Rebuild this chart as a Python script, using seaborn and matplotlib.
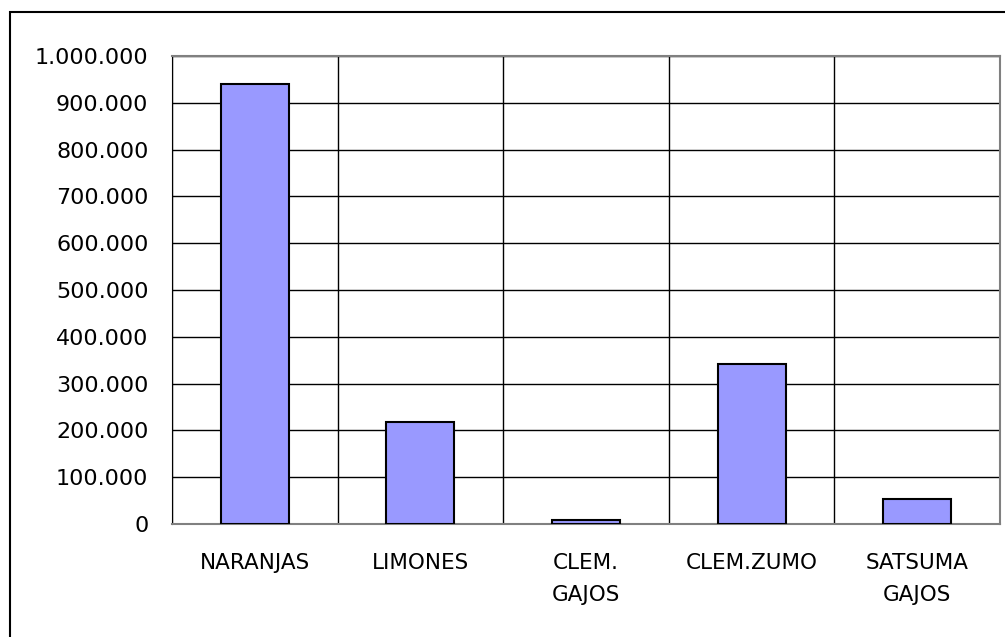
import matplotlib
matplotlib.use('Agg')
from matplotlib import pyplot as plt
from matplotlib.patches import Rectangle
from matplotlib.ticker import FuncFormatter
import seaborn as sns

categories = ['NARANJAS', 'LIMONES', 'CLEM.\nGAJOS', 'CLEM.ZUMO', 'SATSUMA\nGAJOS']
values = [940000, 218000, 8000, 342000, 53000]
y_ticks = list(range(0, 1000001, 100000))

sns.set_style('white')
plt.rcParams['font.family'] = ['DejaVu Sans']
plt.rcParams['text.color'] = 'black'
plt.rcParams['xtick.color'] = 'black'
plt.rcParams['ytick.color'] = 'black'

fig = plt.figure(figsize=(10.05, 6.37), dpi=100)
# outer chart border (runs off the right and bottom of the image)
fig.patches.append(Rectangle((10 / 1005, -0.1), 1.2, 625 / 637 + 0.1,
                             transform=fig.transFigure, fill=False,
                             edgecolor='black', linewidth=1.5, clip_on=False))

ax = fig.add_axes([172 / 1005, 113 / 637, 828 / 1005, 468 / 637])
sns.barplot(x=categories, y=values, color='#9999FF', saturation=1,
            edgecolor='black', linewidth=1.5, width=0.41, ax=ax, zorder=3)

ax.set_xlim(-0.5, 4.5)
ax.set_ylim(0, 1000000)
ax.set_yticks(y_ticks)
ax.yaxis.set_major_formatter(FuncFormatter(lambda v, p: f'{int(v):,}'.replace(',', '.')))

ax.set_xticks([i - 0.5 for i in range(6)], minor=True)
ax.tick_params(axis='x', which='major', length=0, pad=21, labelsize=15.5, labelcolor='black')
ax.tick_params(axis='x', which='minor', length=7, width=1, color='black', direction='out')
ax.tick_params(axis='y', length=8, width=1, color='black', direction='out', pad=9,
               labelsize=16, labelcolor='black')
for lab in ax.get_xticklabels():
    lab.set_linespacing(1.75)

ax.yaxis.grid(True, color='black', linewidth=1, zorder=0)
ax.xaxis.grid(True, which='minor', color='black', linewidth=1, zorder=0)
ax.set_axisbelow(True)

ax.spines['left'].set_color('black')
for side in ['top', 'right', 'bottom']:
    ax.spines[side].set_color('#808080')
    ax.spines[side].set_linewidth(1.5)
ax.set_xlabel('')
ax.set_ylabel('')

fig.savefig('out.png', dpi=100)
